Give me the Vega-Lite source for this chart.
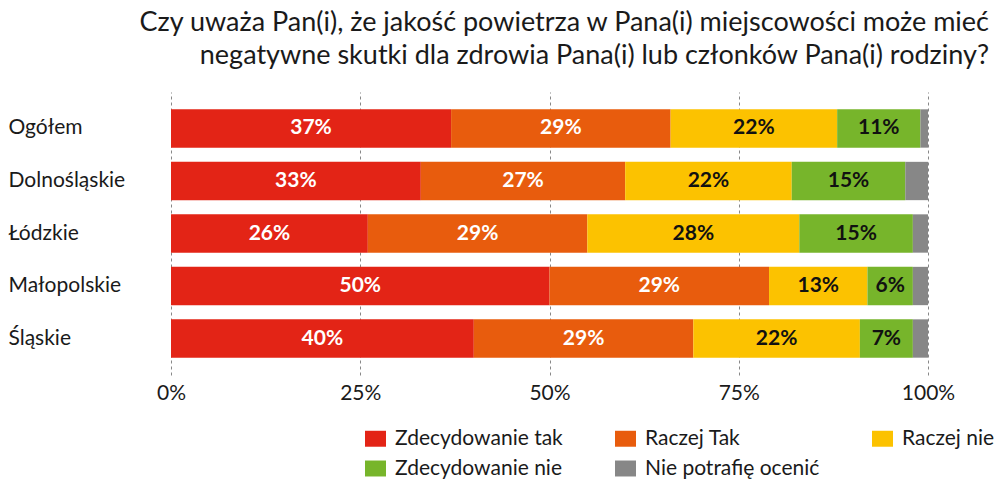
{
  "$schema": "https://vega.github.io/schema/vega-lite/v6.json",
  "autosize": "none",
  "width": 757,
  "height": 283,
  "padding": {"left": 171, "top": 92, "right": 67, "bottom": 108},
  "background": "white",
  "title": {
    "text": ["Czy uważa Pan(i), że jakość powietrza w Pana(i) miejscowości może mieć", "negatywne skutki dla zdrowia Pana(i) lub członków Pana(i) rodziny?"],
    "anchor": "end",
    "frame": "group",
    "dx": 61,
    "offset": 22,
    "font": "Lato",
    "fontSize": 27,
    "fontWeight": "normal",
    "lineHeight": 33,
    "color": "#1a1a1a"
  },
  "config": {
    "view": {"stroke": null},
    "font": "Lato"
  },
  "data": {
    "values": [
      {"region": "Ogółem", "answer": "Zdecydowanie tak", "k": 1, "value": 37},
      {"region": "Ogółem", "answer": "Raczej Tak", "k": 2, "value": 29},
      {"region": "Ogółem", "answer": "Raczej nie", "k": 3, "value": 22},
      {"region": "Ogółem", "answer": "Zdecydowanie nie", "k": 4, "value": 11},
      {"region": "Ogółem", "answer": "Nie potrafię ocenić", "k": 5, "value": 1},
      {"region": "Dolnośląskie", "answer": "Zdecydowanie tak", "k": 1, "value": 33},
      {"region": "Dolnośląskie", "answer": "Raczej Tak", "k": 2, "value": 27},
      {"region": "Dolnośląskie", "answer": "Raczej nie", "k": 3, "value": 22},
      {"region": "Dolnośląskie", "answer": "Zdecydowanie nie", "k": 4, "value": 15},
      {"region": "Dolnośląskie", "answer": "Nie potrafię ocenić", "k": 5, "value": 3},
      {"region": "Łódzkie", "answer": "Zdecydowanie tak", "k": 1, "value": 26},
      {"region": "Łódzkie", "answer": "Raczej Tak", "k": 2, "value": 29},
      {"region": "Łódzkie", "answer": "Raczej nie", "k": 3, "value": 28},
      {"region": "Łódzkie", "answer": "Zdecydowanie nie", "k": 4, "value": 15},
      {"region": "Łódzkie", "answer": "Nie potrafię ocenić", "k": 5, "value": 2},
      {"region": "Małopolskie", "answer": "Zdecydowanie tak", "k": 1, "value": 50},
      {"region": "Małopolskie", "answer": "Raczej Tak", "k": 2, "value": 29},
      {"region": "Małopolskie", "answer": "Raczej nie", "k": 3, "value": 13},
      {"region": "Małopolskie", "answer": "Zdecydowanie nie", "k": 4, "value": 6},
      {"region": "Małopolskie", "answer": "Nie potrafię ocenić", "k": 5, "value": 2},
      {"region": "Śląskie", "answer": "Zdecydowanie tak", "k": 1, "value": 40},
      {"region": "Śląskie", "answer": "Raczej Tak", "k": 2, "value": 29},
      {"region": "Śląskie", "answer": "Raczej nie", "k": 3, "value": 22},
      {"region": "Śląskie", "answer": "Zdecydowanie nie", "k": 4, "value": 7},
      {"region": "Śląskie", "answer": "Nie potrafię ocenić", "k": 5, "value": 2}
    ]
  },
  "encoding": {
    "y": {
      "field": "region",
      "type": "nominal",
      "sort": null,
      "scale": {"paddingInner": 0.27, "paddingOuter": 0.33},
      "axis": {
        "title": null,
        "domain": false,
        "ticks": false,
        "labelAlign": "left",
        "labelPadding": 163,
        "labelFont": "Lato",
        "labelFontSize": 21,
        "labelColor": "#1a1a1a",
        "labelLimit": 200
      }
    }
  },
  "layer": [
    {
      "mark": {"type": "bar"},
      "encoding": {
        "x": {
          "field": "value",
          "type": "quantitative",
          "stack": "zero",
          "scale": {"domain": [0, 100], "nice": false},
          "axis": {
            "title": null,
            "values": [0, 25, 50, 75, 100],
            "labelExpr": "datum.value + '%'",
            "domain": false,
            "ticks": false,
            "grid": true,
            "gridDash": [3, 3],
            "gridColor": "#888888",
            "gridWidth": 1,
            "labelFlush": false,
            "labelFont": "Lato",
            "labelFontSize": 21,
            "labelColor": "#1a1a1a",
            "labelPadding": 7
          }
        },
        "order": {"field": "k", "type": "quantitative"},
        "color": {
          "field": "answer",
          "type": "nominal",
          "scale": {
            "domain": ["Zdecydowanie tak", "Raczej Tak", "Raczej nie", "Zdecydowanie nie", "Nie potrafię ocenić"],
            "range": ["#E32416", "#E85C0D", "#FCC200", "#77B52B", "#878787"]
          },
          "legend": {
            "title": null,
            "orient": "none",
            "legendX": 194,
            "legendY": 336,
            "direction": "horizontal",
            "columns": 3,
            "symbolType": "M-1,-0.76H1V0.76H-1Z",
            "symbolSize": 441,
            "symbolStrokeWidth": 0,
            "symbolOpacity": 1,
            "labelFont": "Lato",
            "labelFontSize": 21,
            "labelColor": "#1a1a1a",
            "labelOffset": 9,
            "rowPadding": 8,
            "columnPadding": 52,
            "labelLimit": 300
          }
        }
      }
    },
    {
      "transform": [{"filter": "datum.answer != 'Nie potrafię ocenić'"}],
      "mark": {"type": "text", "font": "Lato", "fontSize": 21, "fontWeight": "bold", "align": "center", "baseline": "middle", "text": {"expr": "datum.value + '%'"}},
      "encoding": {
        "x": {"field": "value", "type": "quantitative", "stack": "zero", "bandPosition": 0.5},
        "order": {"field": "k", "type": "quantitative"},
        "detail": {"field": "answer"},
        "color": {
          "condition": {"test": "datum.k <= 2", "value": "white"},
          "value": "#111111"
        }
      }
    }
  ]
}
